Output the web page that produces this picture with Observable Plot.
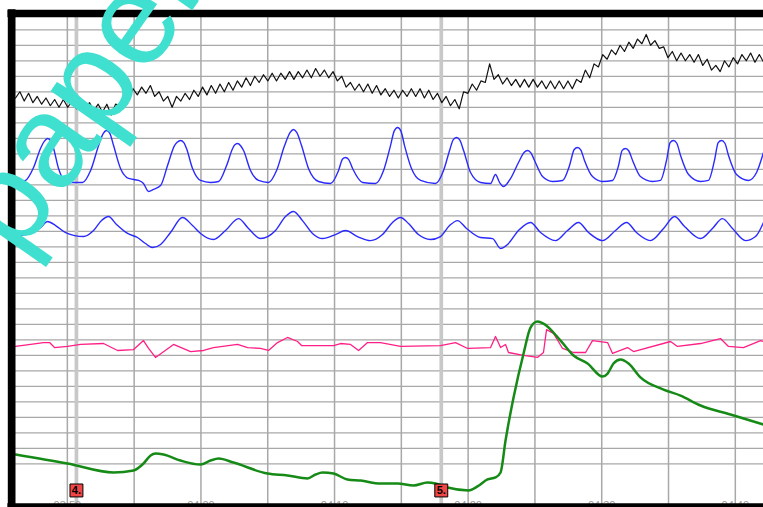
<!DOCTYPE html>
<html><head><meta charset="utf-8">
<script src="https://cdn.jsdelivr.net/npm/d3@7"></script>
<script src="https://cdn.jsdelivr.net/npm/@observablehq/plot@0.6"></script>
<style>html,body{margin:0;padding:0;background:#fff;overflow:hidden}</style>
</head><body><div id="chart"></div>
<script>
// ---- time axis (seconds) ----
const tickTimes = [230, 240, 250, 260, 270, 280];
const tickLabels = ["03:50", "04:00", "04:10", "04:20", "04:30", "04:40"];
const gridTimes = [230, 235, 240, 245, 250, 255, 260, 265, 270, 275, 280];
const gridLevels = d3.range(0, 281, 10);
const xDomain = [225.83, 282.11];
const yDomain = [-27.87, 290.5];

// ---- event markers ----
const eventTimes = [230.68, 257.99];
const eventLabels = ["4.", "5."];
const eventLevel = -17.2;

// ---- cardio (black), sampled every half beat ----
const cardioStart = 226.12;
const cardioStep = 0.3256;
const cardio = [
  236,240,234,239,233,237,232,236,231,235,
  230,235,230,234,229,234,229,233,228,232,
  227,232,225,232,231,239,236,242,238,243,
  239,244,237,240,234,237,230,237,234,239,
  235,241,237,243,238,244,239,245,240,246,
  241,247,243,249,244,250,246,251,247,252,
  247,252,248,253,248,253,249,254,249,255,
  250,254,249,253,247,250,243,246,241,245,
  240,245,239,244,238,242,237,241,236,241,
  237,242,237,242,236,241,235,239,233,237,
  231,235,229,240,239,245,241,247,246,258,
  248,251,245,249,244,248,243,248,243,248,
  243,247,242,247,242,247,242,247,242,248,
  246,254,249,258,256,264,261,267,264,270,
  266,272,268,274,271,277,270,273,268,269,
  262,266,260,265,260,264,259,264,257,261,
  254,257,253,260,256,262,258,264,260,265,
  259,264,259
];

// ---- upper pneumo (blue) [t, value] ----
const upperPneumo = [[226.12,181.5],[226.87,182.8],[227.47,191.1],[227.99,203.4],[228.27,208.0],[228.52,209.9],[228.77,208.2],[228.97,203.4],[229.34,190.5],[229.79,182.8],[230.24,181.5],[231.14,181.5],[231.74,189.2],[232.34,205.3],[232.68,213.0],[232.93,215.0],[233.18,213.2],[233.46,205.3],[233.98,190.5],[234.58,184.1],[235.33,182.8],[235.70,180.8],[236.08,175.7],[236.45,177.0],[236.98,179.5],[237.50,192.4],[238.02,205.3],[238.22,207.4],[238.47,208.6],[238.72,207.2],[238.92,203.4],[239.37,190.5],[239.97,182.8],[240.72,181.5],[241.32,182.1],[241.92,192.4],[242.37,203.4],[242.52,205.6],[242.74,206.6],[242.97,205.2],[243.19,202.1],[243.71,189.2],[244.31,182.8],[245.06,181.5],[245.66,189.2],[246.26,205.3],[246.68,213.8],[246.93,215.7],[247.18,213.6],[247.53,205.3],[248.05,190.5],[248.80,182.1],[249.70,180.8],[250.30,189.2],[250.60,196.6],[250.82,197.6],[251.05,196.4],[251.35,190.5],[252.10,181.5],[253.07,180.8],[253.67,189.2],[254.19,205.3],[254.47,214.8],[254.72,217.0],[254.97,214.6],[255.24,205.3],[255.76,190.5],[256.44,182.8],[257.56,180.8],[258.16,189.2],[258.61,202.1],[258.88,209.0],[259.13,210.5],[259.38,208.8],[259.66,202.1],[260.18,187.9],[260.93,181.5],[261.68,180.8],[262.05,186.6],[262.35,181.5],[262.65,178.9],[263.18,184.1],[263.77,194.4],[264.20,201.0],[264.45,202.1],[264.70,200.6],[264.97,195.7],[265.57,185.3],[266.32,182.1],[267.07,182.8],[267.59,192.4],[267.94,202.8],[268.19,204.1],[268.44,202.4],[268.71,195.7],[269.31,185.3],[270.06,182.1],[270.81,182.8],[271.26,192.4],[271.53,202.2],[271.78,203.4],[272.03,201.8],[272.31,195.7],[272.90,185.3],[273.80,182.1],[274.40,182.8],[274.85,195.7],[275.12,207.2],[275.37,208.6],[275.62,206.8],[275.90,198.9],[276.50,186.6],[277.40,182.1],[277.99,182.8],[278.44,195.7],[278.72,207.2],[278.97,208.6],[279.22,206.8],[279.49,198.9],[280.09,186.6],[280.99,182.8],[281.59,187.9],[282.11,200.8]];

// ---- lower pneumo (blue) ----
const lowerPneumo = [[226.12,147.3],[227.25,148.6],[227.99,152.4],[228.52,156.3],[229.12,153.7],[229.87,149.2],[231.21,146.6],[231.96,150.5],[232.56,156.9],[233.08,159.5],[233.68,154.4],[234.51,148.6],[235.25,146.0],[235.85,142.1],[236.38,139.5],[236.98,141.5],[237.72,149.2],[238.62,158.9],[239.37,153.7],[239.97,148.6],[240.94,144.7],[241.84,150.5],[242.81,158.2],[243.56,151.8],[244.46,145.3],[245.58,150.5],[246.33,159.5],[246.93,162.8],[247.60,156.9],[248.35,148.6],[249.10,145.3],[250.07,147.9],[250.82,150.5],[251.72,146.6],[252.69,144.0],[253.59,147.9],[254.34,155.7],[254.94,158.9],[255.54,155.0],[256.28,147.9],[257.18,144.7],[257.93,146.6],[258.61,153.7],[259.21,156.9],[259.88,151.8],[260.93,146.0],[261.83,145.3],[262.43,138.9],[262.95,141.5],[263.77,150.5],[264.67,155.7],[265.42,149.2],[266.54,144.0],[267.44,150.5],[268.26,155.7],[269.01,149.2],[270.06,144.0],[271.03,150.5],[271.86,155.7],[272.60,149.2],[273.65,144.0],[274.63,151.8],[275.45,159.5],[276.20,153.1],[277.40,145.3],[278.29,151.8],[279.04,158.2],[279.79,151.8],[280.76,144.0],[281.51,146.6],[282.11,155.7]];

// ---- motion sensor (pink) ----
const motion = [[226.12,75.7],[227.25,77.0],[228.22,78.2],[228.67,78.2],[229.04,75.0],[230.01,75.7],[230.99,77.0],[232.71,77.6],[233.76,73.1],[234.96,73.7],[235.70,79.5],[236.08,74.4],[236.60,68.6],[237.95,77.0],[239.22,72.4],[240.19,73.1],[240.94,75.0],[242.74,77.0],[243.49,75.0],[244.46,74.4],[245.06,73.1],[245.73,78.2],[246.48,81.5],[247.23,78.9],[247.53,76.3],[249.93,76.3],[250.45,77.6],[251.20,77.0],[251.80,73.1],[252.47,78.2],[253.44,78.2],[254.94,75.7],[257.93,76.3],[259.06,78.2],[259.96,74.4],[261.68,75.0],[262.05,82.1],[262.43,75.0],[262.80,77.0],[263.02,71.8],[264.15,69.9],[265.19,68.6],[265.64,71.8],[265.87,86.6],[266.39,84.1],[267.07,74.4],[267.89,71.8],[268.79,71.8],[269.31,79.5],[270.44,78.2],[270.81,71.2],[271.93,75.0],[272.38,72.4],[275.15,78.9],[275.67,75.7],[277.40,77.6],[278.89,80.8],[279.49,75.7],[280.61,75.0],[281.89,79.5],[282.11,78.9]];

// ---- electrodermal (green) ----
const eda = [[226.12,6.0],[230.01,0.2],[233.46,-5.6],[234.96,-4.3],[235.70,0.2],[236.23,5.4],[236.60,6.6],[237.20,6.0],[238.47,2.1],[239.97,-0.5],[240.72,2.1],[241.32,3.4],[242.44,0.8],[244.98,-6.3],[246.48,-7.5],[247.98,-9.5],[248.58,-6.9],[249.10,-5.6],[249.93,-6.3],[250.97,-10.1],[251.95,-10.8],[253.44,-12.7],[254.72,-12.7],[255.91,-14.0],[256.96,-12.1],[257.56,-12.7],[258.46,-15.3],[260.03,-17.2],[260.70,-14.6],[261.45,-10.1],[262.05,-8.8],[262.43,-5.6],[262.80,15.0],[263.40,42.7],[264.15,71.2],[264.67,87.9],[265.19,91.8],[265.64,90.5],[266.92,79.5],[267.89,69.9],[268.94,64.7],[270.06,56.3],[270.44,58.2],[270.88,64.7],[271.41,67.3],[272.01,64.7],[272.90,55.7],[274.63,47.9],[275.90,44.0],[277.40,37.6],[279.64,31.8],[282.11,25.3]];

// ---- watermark ----
const watermarkText = "paper";
const watermarkAt = [226.35, 132.5];

const cardioData = cardio.map((v, i) => ({t: cardioStart + i * cardioStep, v}));

const chart = Plot.plot({
  width: 763, height: 507,
  marginLeft: 11.15, marginRight: 0, marginTop: 13, marginBottom: 0.5,
  x: {domain: xDomain, axis: null},
  y: {domain: yDomain, axis: null},
  style: {background: "#fff", fontFamily: "'Liberation Sans', Arial, sans-serif"},
  marks: [
    Plot.ruleY(gridLevels, {stroke: "#a8a8a8", strokeWidth: 1.2}),
    Plot.ruleX(gridTimes, {stroke: "#a8a8a8", strokeWidth: 1.5}),
    Plot.ruleX(eventTimes, {stroke: "#c8c8c8", strokeWidth: 3.7}),
    Plot.line(cardioData, {x: "t", y: "v", stroke: "#111", strokeWidth: 1.2}),
    Plot.line(upperPneumo, {x: d => d[0], y: d => d[1], curve: "monotone-x", stroke: "#2a2aff", strokeWidth: 1.4}),
    Plot.line(lowerPneumo, {x: d => d[0], y: d => d[1], curve: "monotone-x", stroke: "#2a2aff", strokeWidth: 1.4}),
    Plot.line(motion, {x: d => d[0], y: d => d[1], stroke: "#ff1f86", strokeWidth: 1.3}),
    Plot.line(eda, {x: d => d[0], y: d => d[1], curve: "monotone-x", stroke: "#168a16", strokeWidth: 2.5}),
    Plot.dot(eventTimes, {x: d => d, y: () => eventLevel, symbol: "square", r: 7.3, fill: "#f24545", stroke: "#000", strokeWidth: 1}),
    Plot.text(eventTimes, {x: d => d, y: () => eventLevel, text: (d, i) => eventLabels[i], fontWeight: "bold", fontSize: 11, fill: "#000"}),
    Plot.text(tickTimes, {x: d => d, frameAnchor: "bottom", lineAnchor: "top", dy: -6, text: (d, i) => tickLabels[i], fill: "#9a9a9a", fontSize: 11}),
    Plot.ruleX([xDomain[0]], {stroke: "#000", strokeWidth: 7.7, strokeLinecap: "square"}),
    Plot.ruleY([yDomain[1]], {stroke: "#000", strokeWidth: 7.4, strokeLinecap: "square"}),
    Plot.ruleY([yDomain[0]], {stroke: "#000", strokeWidth: 7.5, strokeLinecap: "square"}),
    Plot.text([watermarkText], {x: () => watermarkAt[0], y: () => watermarkAt[1], text: d => d, rotate: -55, textAnchor: "start", lineAnchor: "bottom", fontSize: 132, fill: "#40e0d0", fontFamily: "'Liberation Sans', Arial, sans-serif"})
  ]
});
document.getElementById("chart").appendChild(chart);
</script>
</body></html>
